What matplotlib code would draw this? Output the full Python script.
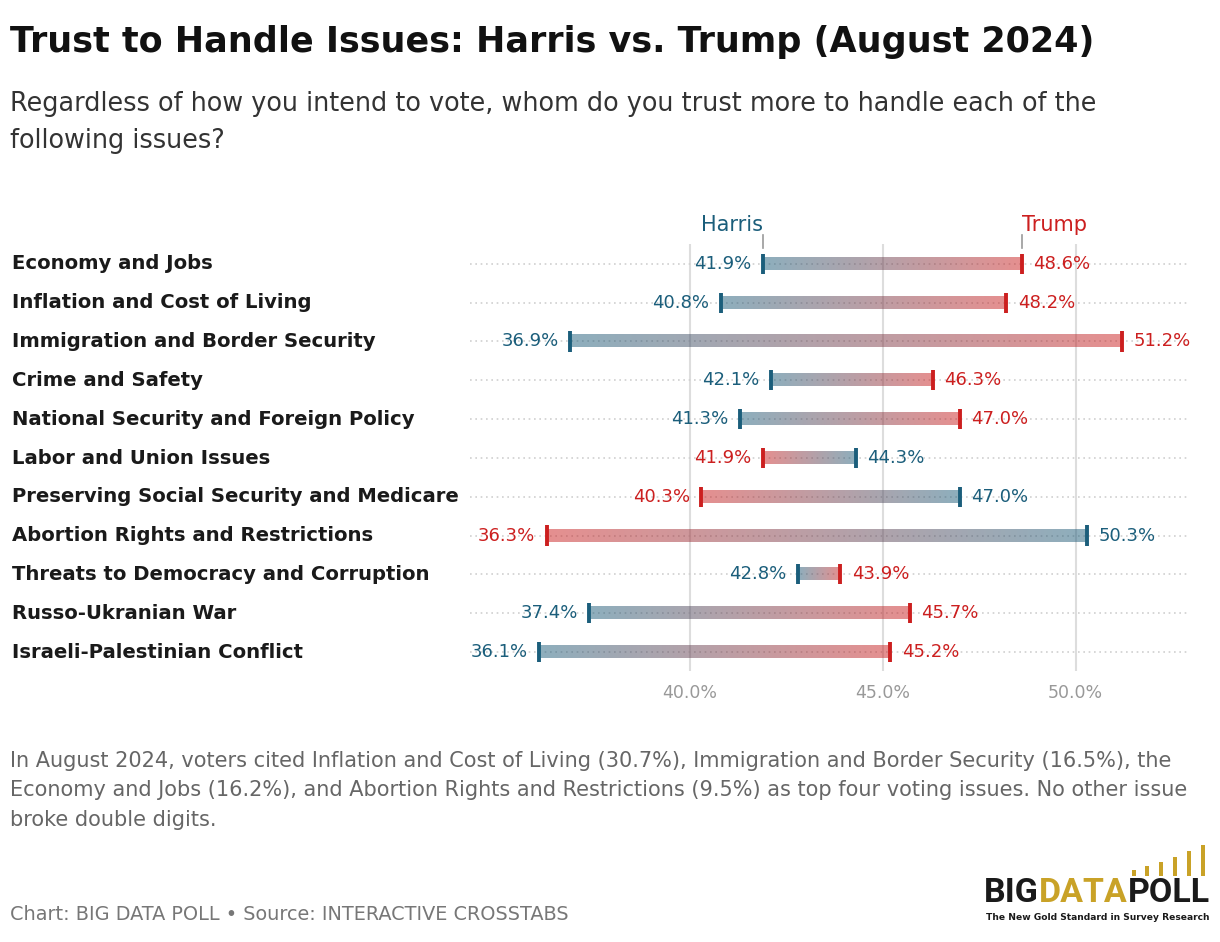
import matplotlib.pyplot as plt
import numpy as np
from matplotlib.colors import to_rgb
from matplotlib.patches import Rectangle
from matplotlib.offsetbox import TextArea, HPacker, AnnotationBbox

plt.rcParams['font.family'] = ['DejaVu Sans']

# data
issues = [
    "Economy and Jobs",
    "Inflation and Cost of Living",
    "Immigration and Border Security",
    "Crime and Safety",
    "National Security and Foreign Policy",
    "Labor and Union Issues",
    "Preserving Social Security and Medicare",
    "Abortion Rights and Restrictions",
    "Threats to Democracy and Corruption",
    "Russo-Ukranian War",
    "Israeli-Palestinian Conflict",
]
harris = [41.9, 40.8, 36.9, 42.1, 41.3, 44.3, 47.0, 50.3, 42.8, 37.4, 36.1]
trump = [48.6, 48.2, 51.2, 46.3, 47.0, 41.9, 40.3, 36.3, 43.9, 45.7, 45.2]
xticks = [40, 45, 50]

BLUE = "#1b5e7b"
RED = "#cc1f1f"
GRID = "#dddddd"

fig = plt.figure(figsize=(12.2, 9.42), dpi=100)
ax = fig.add_axes([0.385, 1 - 671.4 / 942, 0.59, 427 / 942])

n = len(issues)
ypos = np.arange(n)

# dotted row guides and vertical gridlines
for y in ypos:
    ax.plot([34.3, 52.95], [y, y], color="#cfcfcf", lw=1.2,
            linestyle=(0, (1, 2.2)), zorder=1)
for xt in xticks:
    ax.axvline(xt, color=GRID, lw=1.5, zorder=0)

bh = 0.155
ch = 0.26
cb, cr = np.array(to_rgb(BLUE)), np.array(to_rgb(RED))
for y, h, t in zip(ypos, harris, trump):
    left, right = min(h, t), max(h, t)
    frac = np.linspace(0, 1, 256)[:, None]
    if h <= t:
        cols = cb * (1 - frac) + cr * frac
    else:
        cols = cr * (1 - frac) + cb * frac
    rgba = np.concatenate([cols, np.full((256, 1), 0.5)], axis=1)[None, :, :]
    ax.imshow(rgba, extent=(left, right, y - bh, y + bh), aspect="auto",
              interpolation="bilinear", zorder=2)
    ax.plot([h, h], [y - ch, y + ch], color=BLUE, lw=2.8, solid_capstyle="butt", zorder=3)
    ax.plot([t, t], [y - ch, y + ch], color=RED, lw=2.8, solid_capstyle="butt", zorder=3)

    off = 0.3
    if h <= t:
        ax.text(h - off, y, f"{h:.1f}%", color=BLUE, fontsize=13,
                ha="right", va="center")
        ax.text(t + off, y, f"{t:.1f}%", color=RED, fontsize=13,
                ha="left", va="center")
    else:
        ax.text(t - off, y, f"{t:.1f}%", color=RED, fontsize=13,
                ha="right", va="center")
        ax.text(h + off, y, f"{h:.1f}%", color=BLUE, fontsize=13,
                ha="left", va="center")

# series header labels over the first row
ax.plot([harris[0], harris[0]], [-0.75, -0.42], color="#999999", lw=1.2, clip_on=False)
ax.plot([trump[0], trump[0]], [-0.75, -0.42], color="#999999", lw=1.2, clip_on=False)
ax.text(harris[0], -1.0, "Harris", color=BLUE, fontsize=15, ha="right", va="center")
ax.text(trump[0], -1.0, "Trump", color=RED, fontsize=15, ha="left", va="center")

ax.set_xlim(34.3, 52.95)
ax.set_ylim(n - 0.5, -0.5)
ax.set_xticks(xticks)
ax.set_xticklabels([f"{v:.1f}%" for v in xticks], color="#999999", fontsize=12.5)
ax.tick_params(axis="x", length=0, pad=9)
ax.set_yticks([])
for s in ax.spines.values():
    s.set_visible(False)

# issue labels on the left
for y, lab in zip(ypos, issues):
    yf = 1 - (264 + y * 38.8) / 942
    fig.text(12 / 1220, yf, lab, fontsize=14.1, fontweight="bold",
             color="#1a1a1a", ha="left", va="center")

fig.text(10 / 1220, 1 - 42 / 942, "Trust to Handle Issues: Harris vs. Trump (August 2024)",
         fontsize=25.2, fontweight="bold", color="#111111", ha="left", va="center")
fig.text(10 / 1220, 1 - 104 / 942,
         "Regardless of how you intend to vote, whom do you trust more to handle each of the",
         fontsize=18.4, color="#333333", ha="left", va="center")
fig.text(10 / 1220, 1 - 141 / 942, "following issues?",
         fontsize=18.4, color="#333333", ha="left", va="center")

note = ["In August 2024, voters cited Inflation and Cost of Living (30.7%), Immigration and Border Security (16.5%), the",
        "Economy and Jobs (16.2%), and Abortion Rights and Restrictions (9.5%) as top four voting issues. No other issue",
        "broke double digits."]
for i, line in enumerate(note):
    fig.text(10 / 1220, 1 - (761 + i * 29.5) / 942, line, fontsize=15,
             color="#666666", ha="left", va="center")

fig.text(10 / 1220, 1 - 915 / 942,
         "Chart: BIG DATA POLL \u2022 Source: INTERACTIVE CROSSTABS",
         fontsize=13.9, color="#777777", ha="left", va="center")

# logo
GOLD = "#c9a227"
parts = [TextArea(s, textprops=dict(color=c, fontsize=24.5, fontweight="bold", family="Roboto"))
         for s, c in [("BIG", "#1a1a1a"), ("DATA", GOLD), ("POLL", "#1a1a1a")]]
logo = HPacker(children=parts, pad=0, sep=0)
fig.add_artist(AnnotationBbox(logo, (1210 / 1220, 1 - 909 / 942), xycoords="figure fraction",
                              box_alignment=(1, 0), frameon=False, pad=0))
fig.text(1210 / 1220, 1 - 918 / 942, "The New Gold Standard in Survey Research",
         fontsize=6.6, fontweight="bold", color="#1a1a1a", ha="right", va="center")
for bx, top in zip([1132, 1145, 1159, 1173, 1187, 1201], [870, 866, 862, 857, 851, 845]):
    fig.add_artist(Rectangle((bx / 1220, 1 - 876 / 942), 3.5 / 1220, (876 - top) / 942,
                             transform=fig.transFigure, color=GOLD, lw=0))

fig.savefig("out.png", dpi=100)
